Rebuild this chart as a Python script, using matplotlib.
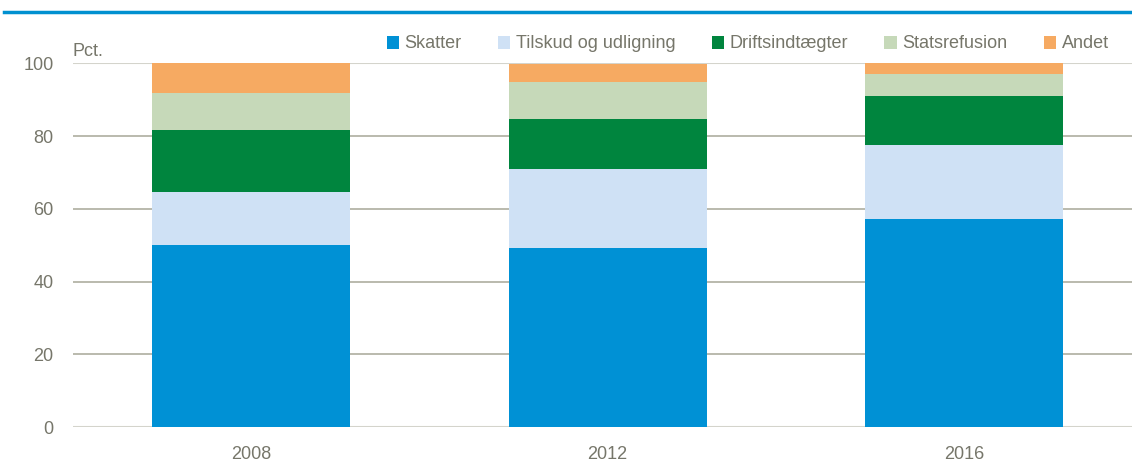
import matplotlib
matplotlib.use("Agg")
import matplotlib.pyplot as plt
from matplotlib.patches import Patch
from matplotlib import font_manager

years = ["2008", "2012", "2016"]
skatter = [50.1, 49.2, 57.3]
tilskud = [14.6, 21.9, 20.4]
drift = [17.0, 13.6, 13.4]
statsrefusion = [10.2, 10.3, 6.0]
andet = [8.1, 5.0, 2.9]

series = [
    ("Skatter", skatter, "#0091d5"),
    ("Tilskud og udligning", tilskud, "#cfe1f5"),
    ("Driftsindtægter", drift, "#00853e"),
    ("Statsrefusion", statsrefusion, "#c6d9b9"),
    ("Andet", andet, "#f6aa62"),
]

names = {f.name for f in font_manager.fontManager.ttflist}
family = "Liberation Sans Narrow" if "Liberation Sans Narrow" in names else "Liberation Sans"
plt.rcParams["font.family"] = [family, "DejaVu Sans"]

text_col = "#76766a"
W, H = 1132, 466
fig = plt.figure(figsize=(W / 100, H / 100), dpi=100)

# blue rule under the (cropped) title
fig.add_artist(plt.Line2D([4 / W, 1], [1 - 12 / H, 1 - 12 / H], color="#0090d0", lw=2.5))

ax = fig.add_axes([73 / W, 1 - 427 / H, (1132 - 73) / W, (427 - 63.5) / H])

x = list(range(len(years)))
bottom = [0] * len(years)
for name, vals, col in series:
    ax.bar(x, vals, width=0.555, bottom=bottom, color=col, label=name, zorder=2)
    bottom = [b + v for b, v in zip(bottom, vals)]

ax.set_xlim(-0.499, 2.47)
ax.set_ylim(0, 100)
ax.set_yticks([0, 20, 40, 60, 80, 100])
ax.set_xticks(x)
ax.set_xticklabels(years)
for y in [20, 40, 60, 80]:
    ax.axhline(y, color="#aeaea0", lw=1.2, zorder=1)
for y in [0, 100]:
    ax.axhline(y, color="#d4d4cc", lw=1.5, zorder=1)
for s in ax.spines.values():
    s.set_visible(False)
ax.tick_params(axis="both", length=0, labelsize=13, labelcolor=text_col)
ax.tick_params(axis="y", pad=14)
ax.tick_params(axis="x", pad=14)

ax.text(0, 1.01, "Pct.", transform=ax.transAxes, ha="left", va="bottom",
        fontsize=13, color=text_col)

handles = [Patch(facecolor=c, edgecolor="none") for _, _, c in series]
leg = fig.legend(handles, [n for n, _, _ in series], loc="center right",
                 bbox_to_anchor=(1116 / W, 1 - 44 / H), ncol=5, frameon=False,
                 fontsize=13, handlelength=0.7, handleheight=0.7, handletextpad=0.3,
                 columnspacing=2.0, labelcolor=text_col, borderaxespad=0)

fig.savefig("out.png", dpi=100)
